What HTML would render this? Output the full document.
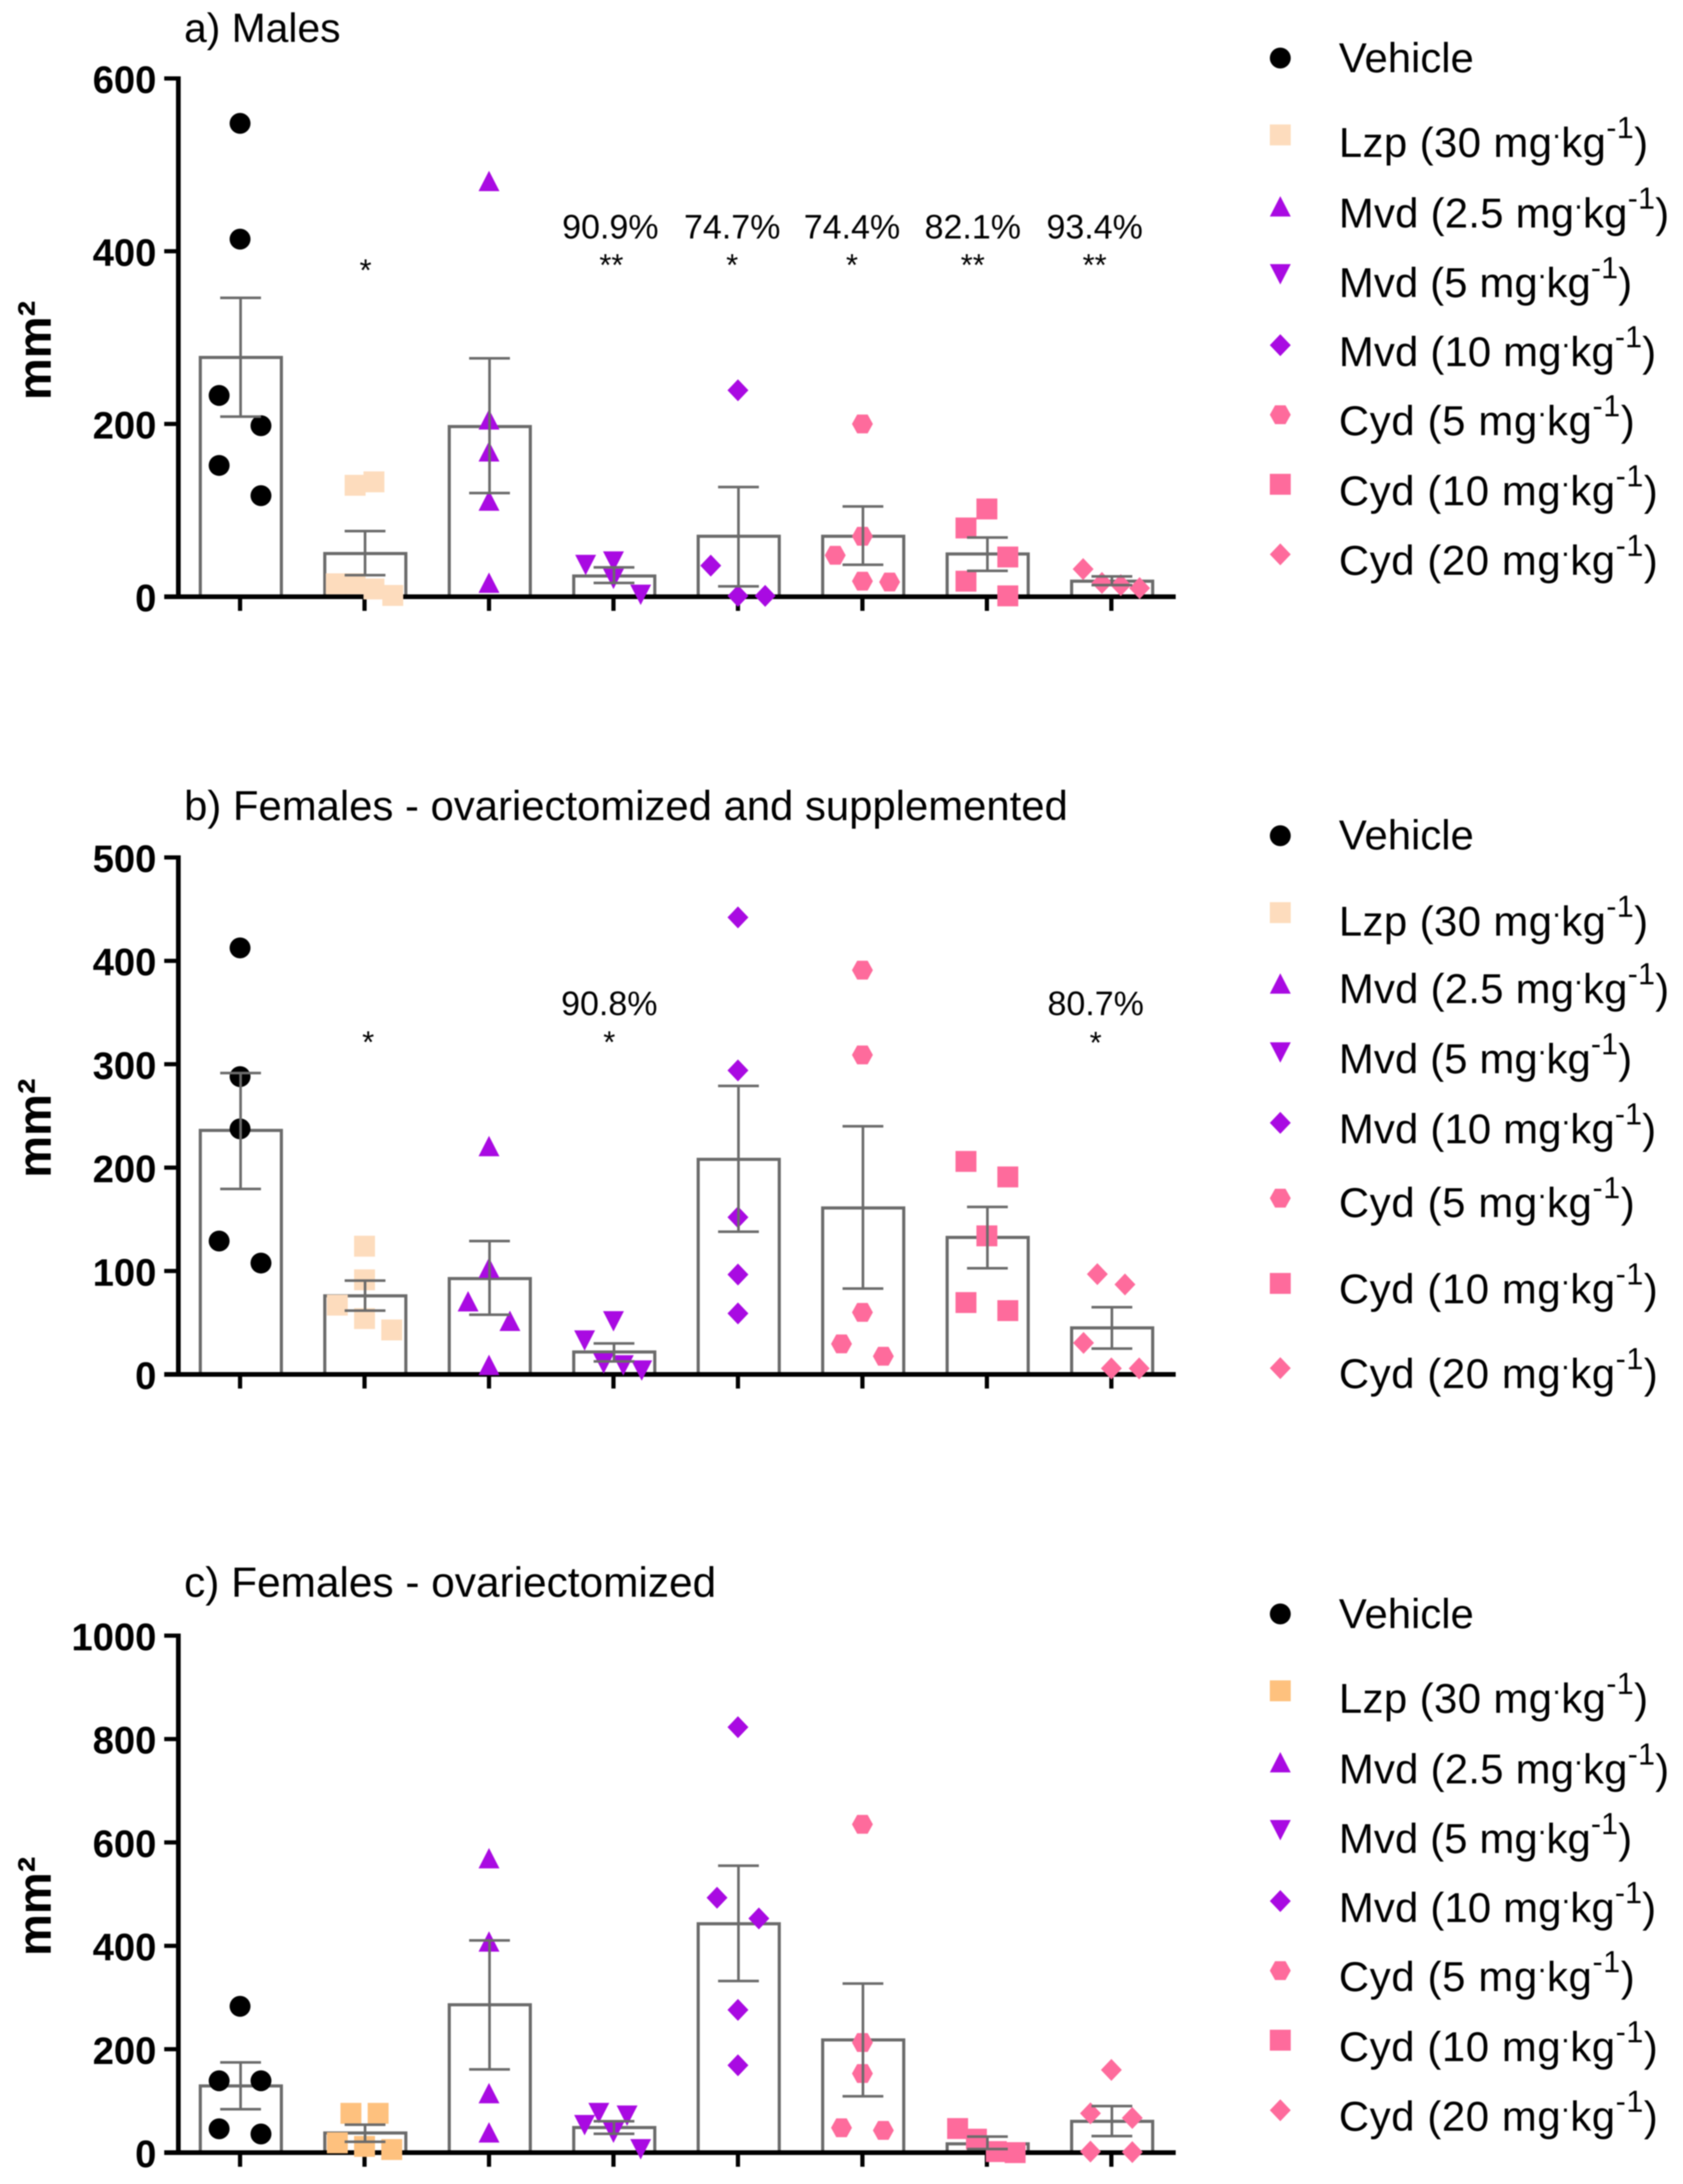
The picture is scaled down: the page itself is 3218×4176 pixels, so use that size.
<!DOCTYPE html>
<html lang="en">
<head>
<meta charset="utf-8">
<title>Lesion area by treatment</title>
<style>
html,body{margin:0;padding:0;background:#fff;width:3218px;height:4176px;overflow:hidden}
svg{display:block;filter:blur(1px)}
text{font-family:"Liberation Sans",Arial,sans-serif;fill:#000}
</style>
</head>
<body>
<svg id="chart" xmlns="http://www.w3.org/2000/svg" width="3218" height="4176" viewBox="0 0 3218 4176">
  <rect x="0" y="0" width="3218" height="4176" fill="#fff"/>
  <text x="352" y="80" font-size="78">a) Males</text>
  <text x="352" y="1568" font-size="80">b) Females - ovariectomized and supplemented</text>
  <text x="352" y="3053" font-size="81">c) Females - ovariectomized</text>

  <g text-anchor="middle">
    <text x="699" y="537" font-size="59">*</text>
    <text x="1167" y="456" font-size="65">90.9%</text>
    <text x="1169" y="527" font-size="59">**</text>
    <text x="1400" y="456" font-size="65">74.7%</text>
    <text x="1400" y="527" font-size="59">*</text>
    <text x="1629" y="456" font-size="65">74.4%</text>
    <text x="1629" y="527" font-size="59">*</text>
    <text x="1860" y="456" font-size="65">82.1%</text>
    <text x="1860" y="527" font-size="59">**</text>
    <text x="2093" y="456" font-size="65">93.4%</text>
    <text x="2093" y="527" font-size="59">**</text>
  </g>
  <g text-anchor="middle">
    <text x="704" y="2013" font-size="59">*</text>
    <text x="1165" y="1941" font-size="65">90.8%</text>
    <text x="1165" y="2013" font-size="59">*</text>
    <text x="2095" y="1941" font-size="65">80.7%</text>
    <text x="2095" y="2014" font-size="59">*</text>
  </g>
</svg>
<script>
// ---- shared categories ----
var categoryKeys = ['vehicle','lzp-30','mvd-2-5','mvd-5','mvd-10','cyd-5','cyd-10','cyd-20'];
var categoryMarkers = ['circle','square','triUp','triDown','diamond','hexagon','square','diamond'];

// ---- panel a: Males ----
var panelATicks = [0,200,400,600];
var panelAMeans = [277,50,197,24,70,70,49.5,18];
var panelAErrLow = [208.5,25,120,16,12,37,30,13.5];
var panelAErrHigh = [346,76,276,34,127,104.5,68.6,23.5];
var panelAValues = [
  [548,414,233,198,152,117],
  [129,133,15,15,9,1.5],
  [481,205,168,111,16],
  [37,41,21,2.5],
  [239,36,1,1],
  [200,70,48,18,17],
  [101.6,79.6,46,18,1],
  [32,16,13.5,10]
];
var panelASlots = [
  [0,0,-1,1,-1,1],
  [-0.45,0.45,-1.35,-0.45,0.45,1.35],
  [0,0,0,0,0],
  [-1.33,0,0,1.3],
  [0,-1.3,0,1.3],
  [0,0,-1.3,0,1.3],
  [0,-1,1,-1,1],
  [-1.35,-0.45,0.45,1.35]
];

// ---- panel b: Females, ovariectomized and supplemented ----
var panelBTicks = [0,100,200,300,400,500];
var panelBMeans = [236,76,92.7,21.7,208,161,132.5,45];
var panelBErrLow = [179.4,61.7,57.7,12.6,138,83,102.7,25];
var panelBErrHigh = [291.5,90.7,129,30,279,240,162,65];
var panelBValues = [
  [412.5,288,237.5,129,107.7],
  [124,91.5,67,54,43],
  [220.6,103,70.5,51.6,9],
  [51.6,33,10.8,9,4],
  [442,294,152,96.6,59],
  [391,309,60,29.5,17.6],
  [206,191,134,69.5,61.7],
  [97,87,30.5,5.8,5.8]
];
var panelBSlots = [
  [0,0,0,-1,1],
  [0,0,-1.3,0,1.3],
  [0,0,-1,1,0],
  [0,-1.38,-0.47,0.47,1.35],
  [0,0,0,0,0],
  [0,0,0,-1,1],
  [-1,1,0,-1,1],
  [-0.67,0.65,-1.33,0,1.33]
];

// ---- panel c: Females, ovariectomized ----
var panelCTicks = [0,200,400,600,800,1000];
var panelCMeans = [129,38,286,48.5,442.7,218,17,60.5];
var panelCErrLow = [84,21,161,36.4,332,109,7,32];
var panelCErrHigh = [174.5,54,410.5,60.7,555,327,31,90];
var panelCValues = [
  [283,139,139,46,36],
  [76,76,19,12,6],
  [569,408,114.6,38.7],
  [53.6,77,72,39,7],
  [823,493,453,276,169],
  [635,213,153,48,43],
  [46.6,26,2,0],
  [160,76,67,2,1]
];
var panelCSlots = [
  [0,-1,1,-1,1],
  [-0.65,0.65,-1.3,0,1.3],
  [0,0,0,0],
  [-1.38,-0.7,0.65,0,1.3],
  [0,-1,1,0,0],
  [0,0,0,-1,1],
  [-1.4,-0.5,0.45,1.35],
  [0,-1,1,-1,1]
];

var legendLabels = [
  ['Vehicle',null],
  ['Lzp (30 mg','lzp'],
  ['Mvd (2.5 mg','mvd'],
  ['Mvd (5 mg','mvd'],
  ['Mvd (10 mg','mvd'],
  ['Cyd (5 mg','cyd'],
  ['Cyd (10 mg','cyd'],
  ['Cyd (20 mg','cyd']
];

var SVG_NS = 'http://www.w3.org/2000/svg';
var root = document.getElementById('chart');
var PURPLE = '#a90ae2', PINK = '#fe6b9c', GREY = '#6b6b6b';

function el(tag, attrs, parent) {
  var n = document.createElementNS(SVG_NS, tag);
  for (var k in attrs) { n.setAttribute(k, attrs[k]); }
  parent.appendChild(n);
  return n;
}

function xPos(i) { return 459 + 238 * i; }

function markerColor(i, lzpColor) {
  if (i === 0) { return '#000'; }
  if (i === 1) { return lzpColor; }
  return i < 5 ? PURPLE : PINK;
}

function drawMarker(shape, cx, cy, color, parent) {
  var n;
  if (shape === 'circle') {
    n = el('circle', {cx: cx, cy: cy, r: 20, fill: color}, parent);
  } else if (shape === 'square') {
    n = el('rect', {x: cx - 20, y: cy - 20, width: 40, height: 40, fill: color}, parent);
  } else {
    var pts;
    if (shape === 'triUp') { pts = [[-20,19],[20,19],[0,-20]]; }
    else if (shape === 'triDown') { pts = [[-20,-19],[20,-19],[0,20]]; }
    else if (shape === 'diamond') { pts = [[-20,0],[0,-21],[20,0],[0,21]]; }
    else { pts = [[-20,0],[-10,-18],[10,-18],[20,0],[10,18],[-10,18]]; }
    n = el('polygon', {points: pts.map(function (p) { return (cx + p[0]) + ',' + (cy + p[1]); }).join(' '), fill: color}, parent);
  }
  return n;
}

function drawPanel(id, y0, yTop, ticks, means, errLow, errHigh, values, slots, lzpColor) {
  var maxTick = ticks[ticks.length - 1];
  function yPos(v) { return y0 - v * (y0 - yTop) / maxTick; }

  var g = el('g', {}, root);
  
  

  // bars
  means.forEach(function (m, i) {
    var x = xPos(i);
    var bar = el('rect', {x: x - 76, y: yPos(m), width: 155, height: y0 - yPos(m), fill: '#fff', stroke: GREY, 'stroke-width': 6}, g);
    
    
  });

  // axes
  var yAxis = el('line', {x1: 341, x2: 341, y1: yPos(maxTick) - 4, y2: y0 + 4, stroke: '#000', 'stroke-width': 9}, g);
  
  
  var xAxis = el('line', {x1: 314, x2: 2248, y1: y0, y2: y0, stroke: '#000', 'stroke-width': 9}, g);
  
  

  ticks.forEach(function (t) {
    var y = yPos(t);
    var tick = el('line', {x1: 314, x2: 341, y1: y, y2: y, stroke: '#000', 'stroke-width': 8}, g);
    
    
    var label = el('text', {x: 299, y: y + 28, 'font-size': 73, 'font-weight': 'bold', 'text-anchor': 'end'}, g);
    label.textContent = String(t);
    
    
  });

  means.forEach(function (m, i) {
    var tick = el('line', {x1: xPos(i), x2: xPos(i), y1: y0, y2: y0 + 27, stroke: '#000', 'stroke-width': 8}, g);
    
    
  });

  var yTitle = el('text', {transform: 'translate(97,' + (y0 - 471) + ') rotate(-90)', 'font-size': 90, 'font-weight': 'bold', 'text-anchor': 'middle'}, g);
  yTitle.textContent = 'mm\u00B2';
  
  

  // data points
  values.forEach(function (series, i) {
    series.forEach(function (v, j) {
      var pt = drawMarker(categoryMarkers[i], xPos(i) + slots[i][j] * 40, yPos(v), markerColor(i, lzpColor), g);
      
      
    });
  });

  // error bars
  means.forEach(function (m, i) {
    var x = xPos(i) + 1;
    var stem = el('line', {x1: x, x2: x, y1: yPos(errHigh[i]), y2: yPos(errLow[i]), stroke: GREY, 'stroke-width': 5}, g);
    
    
    [errHigh[i], errLow[i]].forEach(function (e) {
      var cap = el('line', {x1: x - 39, x2: x + 39, y1: yPos(e), y2: yPos(e), stroke: GREY, 'stroke-width': 5}, g);
      
      
    });
  });
}

function drawLegend(id, markerYs, baselineYs, lzpColor) {
  var rowWidths = [258,592,632,561,607,567,611,611];
  var g = el('g', {}, root);
  
  
  legendLabels.forEach(function (row, i) {
    var entry = el('g', {}, g);
    
    
    var mk = drawMarker(categoryMarkers[i], 2448, markerYs[i], markerColor(i, lzpColor), entry);
    
    
    var t = el('text', {x: 2560, y: baselineYs[i], 'font-size': 80}, entry);
    
    
    t.appendChild(document.createTextNode(row[0]));
    if (row[1]) {
      var dot = el('tspan', {dy: -36, 'font-size': 58}, t);
      dot.textContent = '.';
      var kg = el('tspan', {dy: 36}, t);
      kg.textContent = 'kg';
      var sup = el('tspan', {dy: -36, 'font-size': 58}, t);
      sup.textContent = '-1';
      var close = el('tspan', {dy: 36}, t);
      close.textContent = ')';
    }
    var spare = rowWidths[i] - t.getComputedTextLength();
    t.style.letterSpacing = (spare / t.textContent.length) + 'px';
  });
}

drawPanel('a', 1141, 150, panelATicks, panelAMeans, panelAErrLow, panelAErrHigh, panelAValues, panelASlots, '#fddcbd');
drawPanel('b', 2628, 1639.5, panelBTicks, panelBMeans, panelBErrLow, panelBErrHigh, panelBValues, panelBSlots, '#fddcbd');
drawPanel('c', 4116, 3127.5, panelCTicks, panelCMeans, panelCErrLow, panelCErrHigh, panelCValues, panelCSlots, '#fec17e');

drawLegend('a', [111,258,395,524,660,793,926,1060], [138,300,435,568,700,832,966,1099], '#fddcbd');
drawLegend('b', [1598,1745,1881,2012,2147,2291,2454,2616], [1624,1789,1918,2052,2186,2327,2492,2654], '#fddcbd');
drawLegend('c', [3086,3233,3370,3499,3635,3768,3901,4035], [3113,3275,3410,3543,3675,3807,3941,4074], '#fec17e');
</script>
</body>
</html>
